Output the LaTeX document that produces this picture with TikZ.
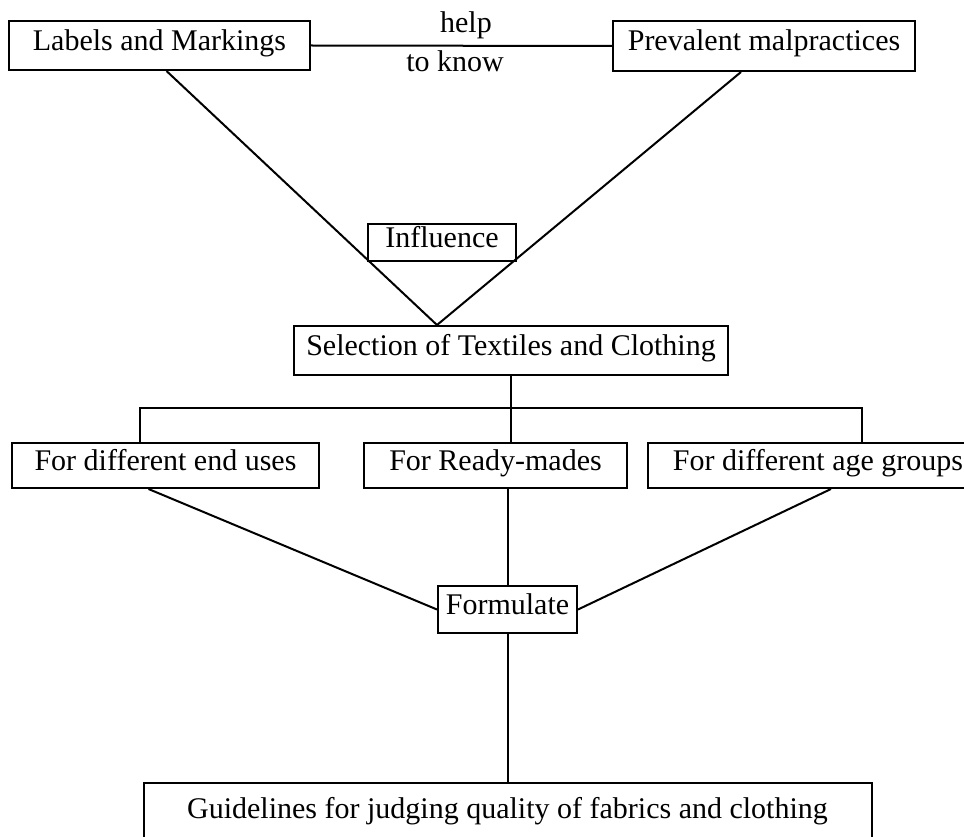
\documentclass[tikz,border=0pt]{standalone}
\usepackage{fontspec}
\setmainfont{Liberation Serif}
\begin{document}
\begin{tikzpicture}[x=1pt,y=-1pt,line width=2pt,
        lbl/.style={inner sep=0pt,font=\fontsize{30}{36}\selectfont,text height=20pt,text depth=10pt},
        box/.style={lbl,draw}]
                \useasboundingbox (0,0) rectangle (964,837);
                \clip (0,0) rectangle (964,837);
                \node[box,minimum width=301pt,minimum height=49pt] (L) at (159.5,45.5) {Labels and Markings};
                \node[box,minimum width=302pt,minimum height=50pt] (P) at (764,46) {Prevalent malpractices};
                \node[lbl] (help) at (466,28) {help};
                \node[lbl] (know) at (455,67) {to know};
                \draw (L.east) -- (P.west);
                \node[box,minimum width=148pt,minimum height=37pt] (I) at (442,242.5) {Influence};
                \node[box,minimum width=434pt,minimum height=49pt] (S) at (511,350.5) {Selection of Textiles and Clothing};
                \draw ([xshift=7pt]L.south) -- ([xshift=144pt]S.north west) -- ([xshift=-23pt]P.south);
                \node[box,minimum width=307pt,minimum height=45pt] (E) at (165.5,465.5) {For different end uses};
                \node[box,minimum width=263pt,minimum height=45pt] (R) at (495.5,465.5) {For Ready-mades};
                \node[box,minimum width=340pt,minimum height=45pt] (A) at (818,465.5) {For different age groups};
                \coordinate (barL) at (140,408);
                \coordinate (barR) at (862,408);
                \draw (S.south) -- (S.south |- barL);
                \draw (barL |- E.north) -- (barL) -- (barR) -- (barR |- A.north);
                \draw (S.south |- barL) -- (S.south |- R.north);
                \node[box,minimum width=139pt,minimum height=47pt] (F) at (507.5,609.5) {Formulate};
                \draw ([xshift=-17pt]E.south) -- (F.west);
                \draw (F.north |- R.south) -- (F.north);
                \draw ([xshift=13pt]A.south) -- (F.east);
                \node[box,minimum width=728pt,minimum height=60pt] (G) at (507.5,813) {Guidelines for judging quality of fabrics and clothing};
                \draw (F.south) -- (G.north);
            \end{tikzpicture}
\end{document}
